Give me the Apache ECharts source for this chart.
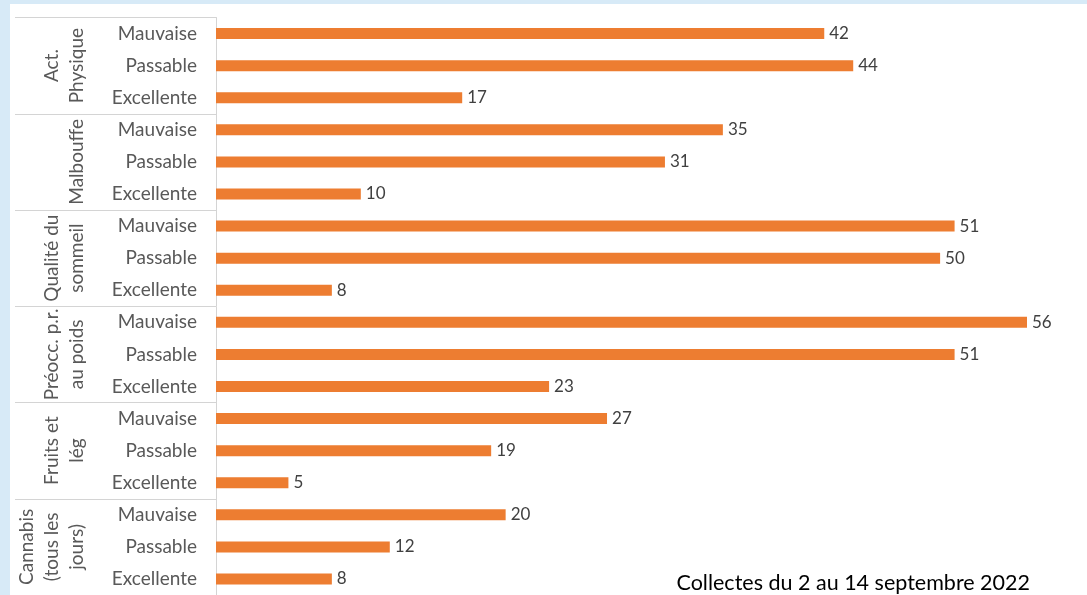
<!DOCTYPE html>
<html><head><meta charset="utf-8">
<script src="https://cdn.jsdelivr.net/npm/echarts@6/dist/echarts.min.js"></script>
<style>
html,body{margin:0;padding:0;width:1087px;height:595px;overflow:hidden;background:#d7eaf7;}
#bg{position:absolute;left:10px;top:4px;width:1077px;height:591px;background:#ffffff;}
#chart{position:absolute;left:0;top:0;width:1087px;height:595px;}
</style></head>
<body><div id="bg"></div><div id="chart"></div>
<script>
const groups = ["Act.\nPhysique", "Malbouffe", "Qualité du\nsommeil", "Préocc. p.r.\nau poids", "Fruits et\nlég", "Cannabis\n(tous les\njours)"];
const levels = ["Mauvaise", "Passable", "Excellente"];
const values = [42, 44, 17, 35, 31, 10, 51, 50, 8, 56, 51, 23, 27, 19, 5, 20, 12, 8];
const footnote = "Collectes du 2 au 14 septembre 2022";

const categories = [];
groups.forEach(() => levels.forEach(l => categories.push(l)));

const chart = echarts.init(document.getElementById('chart'));
const font = 'Lato';
chart.setOption({
  animation: false,
  backgroundColor: 'transparent',
  title: {
    text: footnote, right: 57, bottom: 1, padding: 0,
    textStyle: {fontFamily: font, fontSize: 21.5, fontWeight: 'normal', color: '#000'}
  },
  grid: {left: 216, top: 17.5, width: 811, height: 580, containLabel: false},
  xAxis: {type: 'value', min: 0, max: 56, show: false},
  yAxis: [
    {
      type: 'category', data: categories, inverse: true,
      axisLine: {show: false}, axisTick: {show: false},
      axisLabel: {interval: 0, margin: 19, fontFamily: font, fontSize: 19, color: '#595959'}
    },
    {
      type: 'category', data: groups, inverse: true, position: 'left',
      axisLine: {show: true, lineStyle: {color: '#d4d4d4', width: 1}},
      axisTick: {show: true, interval: 0, length: 201, lineStyle: {color: '#d4d4d4', width: 1}},
      axisLabel: {interval: 0, rotate: 90, margin: 127, fontFamily: font, fontSize: 19, color: '#595959', lineHeight: 25}
    }
  ],
  series: [{
    type: 'bar', data: values, barWidth: 11,
    itemStyle: {color: '#ED7D31'},
    label: {show: true, position: 'right', distance: 5, fontFamily: font, fontSize: 17, color: '#404040'}
  }]
});
</script></body></html>
